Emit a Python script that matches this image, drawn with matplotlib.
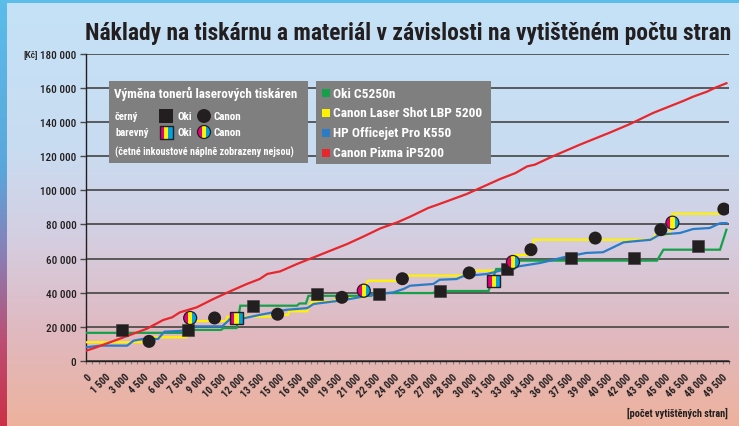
import numpy as np
import matplotlib
matplotlib.use("Agg")
import matplotlib.pyplot as plt
from matplotlib import font_manager as fm
import matplotlib.transforms as mtransforms
from matplotlib.patches import Rectangle, Circle
from matplotlib.colors import LinearSegmentedColormap

# ---------------- data ----------------
title = "Náklady na tiskárnu a materiál v závislosti na vytištěném počtu stran"
y_unit = "[Kč]"
x_label = "[počet vytištěných stran]"
y_ticks = list(range(0, 180001, 20000))
x_ticks = list(range(0, 49501, 1500))
x_minor = list(range(0, 50001, 500))
series_names = ["Oki C5250n", "Canon Laser Shot LBP 5200", "HP Officejet Pro K550", "Canon Pixma iP5200"]
legend1_title = "Výměna tonerů laserových tiskáren"
legend1_rows = ["černý", "barevný"]
legend1_brands = ["Oki", "Canon"]
legend1_note = "(četné inkoustové náplně zobrazeny nejsou)"

oki_pages = [0, 7500, 7600, 10500, 10700, 11700, 12000, 16400, 16600, 17100, 17300, 22200, 22400,
             27000, 27200, 31300, 31900, 33300, 33600, 44400, 44900, 49300, 49800]
oki_cost = [16500, 16500, 18200, 18200, 19300, 19300, 32400, 32400, 33700, 33700, 38200, 38200, 39800,
            39800, 41000, 41000, 53900, 53900, 58800, 58800, 65200, 65200, 76900]

canon_pages = [0, 4900, 5000, 7800, 7900, 10900, 11000, 14800, 14900, 15700, 15800, 17200, 17500, 19200,
               19700, 21500, 21700, 21900, 24500, 24600, 29700, 29800, 32300, 32600, 33100, 33300, 34700,
               34800, 44000, 44300, 45400, 45600, 49700]
canon_cost = [11000, 11000, 13900, 13900, 23400, 23400, 26000, 26000, 27000, 27000, 29100, 29100, 34400, 35000,
              37300, 37300, 41800, 47000, 47000, 50000, 50000, 52900, 52900, 55500, 55500, 62100, 62100,
              71000, 71000, 74000, 74000, 86300, 86300]

hp_pages = [0, 1100, 3200, 3700, 4400, 5600, 6100, 7300, 7800, 8300, 10600, 11200, 12000, 13500, 15600,
            17200, 17700, 19700, 20800, 22300, 23900, 24700, 25200, 27000, 27500, 28800, 29300, 31200,
            32200, 33200, 33700, 35300, 36100, 37100, 38900, 40200, 41000, 41800, 42600, 43900, 44600,
            46200, 47200, 48500, 49300, 49800]
hp_cost = [8000, 9000, 9000, 11900, 12900, 12900, 17200, 17600, 18200, 20300, 20300, 24600, 24600, 27000,
           30000, 31000, 33400, 35300, 36700, 38800, 40200, 42200, 44100, 45100, 47600, 48000, 49600, 51000,
           52900, 54300, 55500, 57400, 58800, 60700, 63300, 63700, 66600, 69500, 70100, 71000, 74000,
           75000, 77300, 77900, 80700, 80800]

pixma_pages = [0, 800, 2100, 3400, 4700, 6000, 6700, 7300, 8600, 9900, 11200, 12500, 13500, 14100, 15100,
               16400, 17700, 19000, 20300, 21600, 22900, 24200, 25200, 26600, 27500, 29600, 32200, 33400,
               34300, 34900, 36300, 38400, 40800, 42300, 44100, 46500, 47200, 48300, 49000, 49800]
pixma_cost = [6000, 8000, 11600, 15200, 18800, 24000, 25600, 28500, 31400, 36300, 40800, 45100, 48000,
              51000, 52500, 56800, 60700, 64600, 68500, 73000, 77700, 81200, 84500, 89600, 92000, 97800,
              106600, 110100, 114000, 115000, 119900, 126700, 134000, 138800, 145300, 152500, 154800,
              157800, 160300, 162700]

oki_black_pages = [2800, 7900, 13000, 18000, 22800, 27500, 32700, 37700, 42600, 47600]
oki_black_cost = [18200, 18200, 32200, 39200, 39200, 41000, 53900, 60300, 60300, 67200]
oki_color_pages = [11700, 31700]
oki_color_cost = [25200, 47000]
canon_black_pages = [4900, 10000, 14900, 19900, 24600, 29800, 34600, 39600, 44700, 49600]
canon_black_cost = [11500, 25200, 27400, 37300, 48200, 51600, 65200, 72000, 76900, 89000]
canon_color_pages = [8100, 21600, 33200, 45600]
canon_color_cost = [25200, 41200, 58000, 81000]

# ---------------- style ----------------
W, H, DPI = 739, 427, 100
DARK = "#231f20"
GREEN, YELLOW, BLUE, RED = "#15a04a", "#fff200", "#2a7cc6", "#e8262c"
MAG, CYA = "#e4007c", "#00a3e0"
BOXGRAY = "#7f7f80"


def pick_font():
    fl = fm.fontManager.ttflist
    names = {f.name for f in fl}
    for n in ["Roboto Condensed", "Liberation Sans Narrow", "Noto Sans Condensed",
              "Open Sans Condensed", "DejaVu Sans Condensed"]:
        if n in names:
            return [n, "DejaVu Sans"], "normal"
    for fam in ["Noto Sans", "DejaVu Sans", "Open Sans", "Roboto"]:
        if any(f.name == fam and str(f.stretch) in ("condensed", "semi-condensed") for f in fl):
            return [fam, "DejaVu Sans"], "condensed"
    return ["Liberation Sans", "DejaVu Sans"], "normal"


FAM, STRETCH = pick_font()


def fp(size, weight="bold"):
    return fm.FontProperties(family=FAM, stretch=STRETCH, weight=weight, size=size)


def fmt(v):
    return f"{v:,}".replace(",", " ")


fig = plt.figure(figsize=(W / DPI, H / DPI), dpi=DPI)

# background gradient
bg = fig.add_axes([0, 0, 1, 1], zorder=-10)
cmap = LinearSegmentedColormap.from_list(
    "bg", [(0, "#c4e2f7"), (0.35, "#c9dcf1"), (0.55, "#d4cfe2"), (0.78, "#e0b9c0"), (1, "#edb29d")])
bg.imshow(np.linspace(0, 1, 256)[:, None], aspect="auto", cmap=cmap, extent=[0, 1, 0, 1])
bg.set_axis_off()
strip = fig.add_axes([0, 0, 7 / W, 1], zorder=-9)
cmap2 = LinearSegmentedColormap.from_list(
    "strip", [(0, "#5cbde9"), (0.4, "#5aa6dc"), (0.6, "#8a7fb6"), (0.8, "#bb4f73"), (1, "#cc3048")])
strip.imshow(np.linspace(0, 1, 256)[:, None], aspect="auto", cmap=cmap2, extent=[0, 1, 0, 1])
strip.set_axis_off()
topstrip = fig.add_axes([0, 1 - 4 / H, 1, 4 / H], zorder=-8)
topstrip.set_facecolor("#5cbde9")
topstrip.set_xticks([]); topstrip.set_yticks([])
for s in topstrip.spines.values():
    s.set_visible(False)

# main axes
ax = fig.add_axes([86 / W, 1 - 362 / H, (729 - 86) / W, (362 - 54.7) / H])
ax.set_facecolor("none")
ax.set_xlim(0, 50000)
ax.set_ylim(0, 180000)
for s in ["top", "right"]:
    ax.spines[s].set_visible(False)
for s in ["left", "bottom"]:
    ax.spines[s].set_color(DARK)
    ax.spines[s].set_linewidth(1.0)
ax.set_yticks(y_ticks)
ax.set_yticklabels([fmt(v) for v in y_ticks])
ax.set_xticks(x_minor, minor=True)
ax.set_xticks(x_ticks)
ax.set_xticklabels([fmt(v) for v in x_ticks])
ax.yaxis.grid(True, color="#444444", linewidth=1.2)
ax.set_axisbelow(True)
ax.tick_params(axis="y", length=4, width=1, color="#4a4a4a", pad=3, labelcolor=DARK)
ax.tick_params(axis="x", which="both", length=2.5, width=0.8, color="#808080", direction="out")
ax.tick_params(axis="x", pad=5, labelcolor=DARK)
for lab in ax.get_yticklabels():
    lab.set_fontproperties(fp(8, "medium"))
for lab in ax.get_xticklabels():
    lab.set_fontproperties(fp(7.3))
    lab.set_rotation(45)
    lab.set_ha("right")
    lab.set_va("top")
    lab.set_rotation_mode("anchor")

# lines
ax.plot(canon_pages, canon_cost, color=YELLOW, lw=1.6, zorder=3, solid_joinstyle="miter")
ax.plot(oki_pages, oki_cost, color=GREEN, lw=1.6, zorder=3.1, solid_joinstyle="miter")
ax.plot(hp_pages, hp_cost, color=BLUE, lw=1.6, zorder=3.2)
ax.plot(pixma_pages, pixma_cost, color=RED, lw=1.6, zorder=3.3)

# markers
ax.scatter(oki_black_pages, oki_black_cost, marker="s", s=(12.5 * 72 / DPI) ** 2, color=DARK,
           edgecolors="#3a3a3a", linewidths=0.4, zorder=5)
ax.scatter(canon_black_pages, canon_black_cost, marker="o", s=(13 * 72 / DPI) ** 2, color=DARK,
           edgecolors="none", zorder=5)


def cmy_square(add, trans, s, z):
    for i, c in enumerate([MAG, YELLOW, CYA]):
        add(Rectangle((-s / 2 + i * s / 3, -s / 2), s / 3, s, transform=trans, facecolor=c,
                      edgecolor="none", zorder=z))
    add(Rectangle((-s / 2, -s / 2), s, s, transform=trans, facecolor="none", edgecolor=DARK,
                  lw=1.0, zorder=z + 0.1))


def cmy_circle(add, trans, d, z):
    clip = Circle((0, 0), d / 2, transform=trans)
    for i, c in enumerate([MAG, YELLOW, CYA]):
        r = Rectangle((-d / 2 + i * d / 3, -d / 2), d / 3, d, transform=trans, facecolor=c,
                      edgecolor="none", zorder=z)
        r.set_clip_path(clip)
        add(r)
    add(Circle((0, 0), d / 2, transform=trans, facecolor="none", edgecolor=DARK, lw=0.9, zorder=z + 0.1))


def data_trans(x, y):
    return mtransforms.Affine2D() + mtransforms.ScaledTranslation(x, y, ax.transData)


def px_trans(x, y):
    return mtransforms.Affine2D().translate(x, H - y)


for x, y in zip(oki_color_pages, oki_color_cost):
    cmy_square(ax.add_artist, data_trans(x, y), 12.5, 6)
for x, y in zip(canon_color_pages, canon_color_cost):
    cmy_circle(ax.add_artist, data_trans(x, y), 13, 6)

# texts
t = fig.text(85 / W, 1 - 40 / H, title, fontproperties=fp(16), color=DARK, ha="left", va="baseline")
fig.canvas.draw()
wpx = t.get_window_extent().width
t.set_fontsize(16 * 648 / wpx)

fig.text(38 / W, 1 - 55 / H, y_unit, fontproperties=fp(6.8, "medium"), color=DARK, ha="right", va="center")
fig.text(728 / W, 1 - 413 / H, x_label, fontproperties=fp(7.4), color=DARK, ha="right", va="center")

# legend box 1
fig.add_artist(Rectangle((109 / W, 1 - 164 / H), (308 - 109) / W, (164 - 82) / H,
                         transform=fig.transFigure, facecolor=BOXGRAY, edgecolor="none", zorder=10))
fig.text(114 / W, 1 - 94 / H, legend1_title, fontproperties=fp(9.4), color="white",
         ha="left", va="center", zorder=11)
for r, yy in enumerate([117, 133]):
    fig.text(115 / W, 1 - yy / H, legend1_rows[r], fontproperties=fp(7.7), color="white",
             ha="left", va="center", zorder=11)
    fig.text(177 / W, 1 - yy / H, legend1_brands[0], fontproperties=fp(7.9), color="white",
             ha="left", va="center", zorder=11)
    fig.text(214 / W, 1 - yy / H, legend1_brands[1], fontproperties=fp(7.9), color="white",
             ha="left", va="center", zorder=11)
fig.add_artist(Rectangle((-7, -7), 14, 14, transform=px_trans(166, 117), facecolor=DARK,
                         edgecolor="none", zorder=12))
fig.add_artist(Circle((0, 0), 7, transform=px_trans(204, 117), facecolor=DARK, edgecolor="none", zorder=12))
cmy_square(fig.add_artist, px_trans(166, 133), 13, 12)
cmy_circle(fig.add_artist, px_trans(204, 133), 13, 12)
fig.text(115 / W, 1 - 152 / H, legend1_note, fontproperties=fp(7.3), color="white",
         ha="left", va="center", zorder=11)

# legend box 2
fig.add_artist(Rectangle((316 / W, 1 - 165 / H), (491 - 316) / W, (165 - 82) / H,
                         transform=fig.transFigure, facecolor=BOXGRAY, edgecolor="none", zorder=10))
for name, col, yy in zip(series_names, [GREEN, YELLOW, BLUE, RED], [94, 113.5, 133.5, 153.5]):
    fig.add_artist(Rectangle((-4, -4), 8, 8, transform=px_trans(326, yy), facecolor=col,
                             edgecolor="none", zorder=12))
    fig.text(333 / W, 1 - yy / H, name, fontproperties=fp(9.6), color="white",
             ha="left", va="center", zorder=11)

fig.savefig("out.png", dpi=DPI)
